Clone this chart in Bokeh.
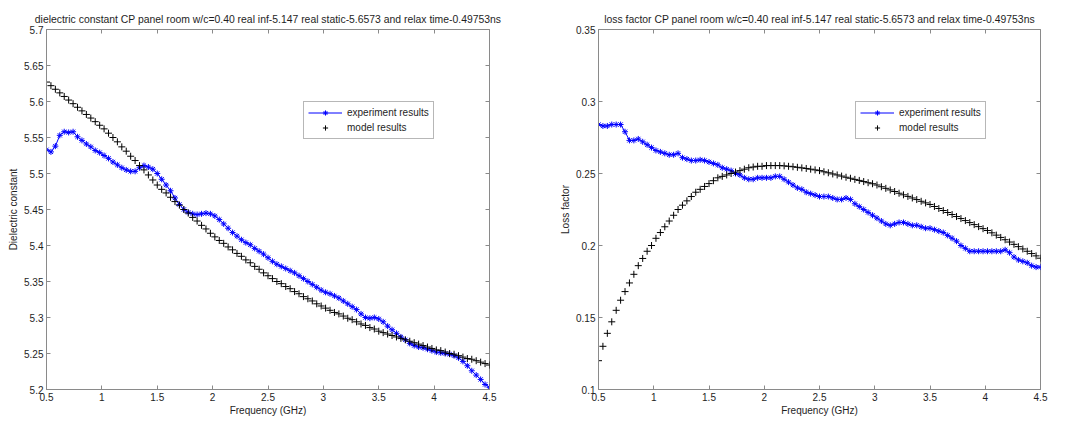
from bokeh.plotting import figure
from bokeh.models import (LinearAxis, FixedTicker, CustomJSTickFormatter, Legend,
                          LegendItem, Range1d)
from bokeh.layouts import row
from bokeh.embed import file_html
from bokeh.resources import INLINE

# Frequency sweep, 0.5 to 4.5 GHz in 0.04 GHz steps (101 samples)
freq_ghz = [round(0.5 + 0.04 * i, 2) for i in range(101)]

# Dielectric constant (real part)
eps_experiment = [
    5.533, 5.530, 5.538, 5.553, 5.558, 5.557, 5.558, 5.551, 5.546, 5.541,
    5.537, 5.532, 5.529, 5.525, 5.521, 5.516, 5.512, 5.508, 5.505, 5.503,
    5.503, 5.508, 5.511, 5.509, 5.506, 5.500, 5.492, 5.484, 5.476, 5.466,
    5.457, 5.450, 5.446, 5.444, 5.443, 5.444, 5.445, 5.444, 5.441, 5.436,
    5.430, 5.424, 5.418, 5.413, 5.408, 5.404, 5.401, 5.396, 5.392, 5.388,
    5.383, 5.378, 5.374, 5.371, 5.368, 5.365, 5.362, 5.358, 5.354, 5.350,
    5.346, 5.342, 5.338, 5.335, 5.333, 5.330, 5.327, 5.323, 5.319, 5.315,
    5.311, 5.305, 5.300, 5.299, 5.300, 5.298, 5.294, 5.288, 5.283, 5.278,
    5.273, 5.269, 5.264, 5.261, 5.259, 5.258, 5.256, 5.254, 5.252, 5.251,
    5.250, 5.249, 5.247, 5.244, 5.239, 5.233, 5.226, 5.220, 5.214, 5.207,
    5.203,
]
eps_model = [
    5.627, 5.622, 5.617, 5.612, 5.607, 5.602, 5.597, 5.592, 5.587, 5.582,
    5.577, 5.572, 5.567, 5.562, 5.556, 5.550, 5.544, 5.537, 5.531, 5.524,
    5.518, 5.511, 5.505, 5.498, 5.491, 5.484, 5.478, 5.473, 5.467, 5.461,
    5.456, 5.450, 5.445, 5.439, 5.434, 5.428, 5.423, 5.417, 5.412, 5.407,
    5.403, 5.398, 5.394, 5.389, 5.385, 5.380, 5.376, 5.371, 5.367, 5.362,
    5.358, 5.354, 5.350, 5.347, 5.343, 5.340, 5.336, 5.333, 5.329, 5.326,
    5.323, 5.319, 5.316, 5.313, 5.310, 5.307, 5.305, 5.302, 5.299, 5.297,
    5.294, 5.291, 5.289, 5.286, 5.284, 5.281, 5.279, 5.277, 5.275, 5.273,
    5.271, 5.269, 5.267, 5.265, 5.263, 5.261, 5.259, 5.257, 5.255, 5.254,
    5.252, 5.250, 5.249, 5.247, 5.245, 5.243, 5.242, 5.240, 5.238, 5.236,
    5.234,
]

# Loss factor (imaginary part)
loss_experiment = [
    0.284, 0.283, 0.283, 0.284, 0.284, 0.284, 0.279, 0.273, 0.273, 0.274,
    0.272, 0.270, 0.268, 0.266, 0.265, 0.264, 0.263, 0.263, 0.264, 0.261,
    0.260, 0.259, 0.259, 0.2595, 0.259, 0.258, 0.257, 0.256, 0.254, 0.253,
    0.252, 0.250, 0.249, 0.247, 0.246, 0.246, 0.247, 0.247, 0.247, 0.247,
    0.248, 0.248, 0.246, 0.244, 0.242, 0.240, 0.239, 0.237, 0.236, 0.235,
    0.234, 0.234, 0.234, 0.233, 0.232, 0.232, 0.233, 0.232, 0.229, 0.227,
    0.225, 0.223, 0.221, 0.219, 0.217, 0.215, 0.214, 0.215, 0.216, 0.216,
    0.215, 0.214, 0.214, 0.213, 0.212, 0.212, 0.211, 0.210, 0.209, 0.207,
    0.205, 0.203, 0.200, 0.198, 0.196, 0.196, 0.196, 0.196, 0.196, 0.196,
    0.196, 0.196, 0.197, 0.195, 0.192, 0.190, 0.189, 0.188, 0.186, 0.185,
    0.185,
]
loss_model = [
    0.120, 0.130, 0.139, 0.147, 0.155, 0.162, 0.168, 0.174, 0.180, 0.186,
    0.191, 0.196, 0.200, 0.205, 0.209, 0.213, 0.217, 0.221, 0.225, 0.228,
    0.231, 0.234, 0.237, 0.239, 0.241, 0.243, 0.245, 0.247, 0.248, 0.249,
    0.250, 0.251, 0.252, 0.253, 0.254, 0.2545, 0.255, 0.255, 0.2555, 0.2555,
    0.2555, 0.2555, 0.2553, 0.2550, 0.2547, 0.2543, 0.2539, 0.2535, 0.2530, 0.2525,
    0.2520, 0.2512, 0.2505, 0.2497, 0.2490, 0.2482, 0.2474, 0.2467, 0.2459, 0.2452,
    0.2444, 0.2436, 0.2429, 0.2420, 0.2408, 0.2397, 0.2386, 0.2375, 0.2363, 0.2352,
    0.2341, 0.2330, 0.2319, 0.2307, 0.2296, 0.2285, 0.2271, 0.2257, 0.2243, 0.2229,
    0.2215, 0.2201, 0.2187, 0.2173, 0.2159, 0.2145, 0.2131, 0.2117, 0.2104, 0.2088,
    0.2072, 0.2056, 0.2040, 0.2024, 0.2008, 0.1992, 0.1976, 0.1960, 0.1944, 0.1928,
    0.1912,
]

x_ticks = [0.5, 1.0, 1.5, 2.0, 2.5, 3.0, 3.5, 4.0, 4.5]
eps_ticks = [5.2, 5.25, 5.3, 5.35, 5.4, 5.45, 5.5, 5.55, 5.6, 5.65, 5.7]
loss_ticks = [0.1, 0.15, 0.2, 0.25, 0.3, 0.35]

title_eps = ("dielectric constant CP panel room w/c=0.40 real inf-5.147 "
             "real static-5.6573 and relax time-0.49753ns")
title_loss = ("loss factor CP panel room w/c=0.40 real inf-5.147 "
              "real static-5.6573 and relax time-0.49753ns")

FONT = "Liberation Sans"
FS = "10px"
AXIS = "#8a8a8a"
TEXT = "#1e1e1e"
BLUE = "#0000ff"

label_fmt = CustomJSTickFormatter(code="return String(Math.round(tick * 1000) / 1000);")
blank_fmt = CustomJSTickFormatter(code="return '';")


def style_axis(ax, ticks, fmt, show_labels=True):
    ax.ticker = FixedTicker(ticks=ticks)
    ax.formatter = fmt
    ax.major_tick_in = 4
    ax.major_tick_out = 0
    ax.minor_tick_line_color = None
    ax.major_tick_line_color = AXIS
    ax.axis_line_color = AXIS if show_labels else None
    ax.major_label_text_font = FONT
    ax.major_label_text_font_size = FS if show_labels else "0px"
    ax.major_label_text_color = TEXT
    ax.major_label_standoff = 3 if show_labels else 0
    ax.axis_label_text_font = FONT
    ax.axis_label_text_font_size = FS
    ax.axis_label_text_font_style = "normal"
    ax.axis_label_text_color = TEXT


def panel(title, ylabel, yr, yticks, exp, model, width, b_left, b_right, b_top):
    p = figure(width=width, height=422, output_backend="svg", toolbar_location=None,
               x_range=Range1d(0.5, 4.5), y_range=Range1d(*yr),
               min_border_left=b_left, min_border_right=b_right,
               min_border_top=b_top, min_border_bottom=33,
               background_fill_color="white", border_fill_color="white")
    p.grid.visible = False
    p.outline_line_color = AXIS
    p.outline_line_width = 1

    p.title.text = title
    p.title.align = "center"
    p.title.text_font = FONT
    p.title.text_font_size = "10.4px"
    p.title.text_font_style = "normal"
    p.title.text_color = TEXT

    style_axis(p.xaxis[0], x_ticks, label_fmt)
    style_axis(p.yaxis[0], yticks, label_fmt)
    p.xaxis[0].axis_label = "Frequency (GHz)"
    p.xaxis[0].axis_label_standoff = 1
    p.yaxis[0].axis_label = ylabel
    p.yaxis[0].axis_label_standoff = 2

    top = LinearAxis()
    style_axis(top, x_ticks, blank_fmt, show_labels=False)
    p.add_layout(top, "above")
    right = LinearAxis()
    style_axis(right, yticks, blank_fmt, show_labels=False)
    p.add_layout(right, "right")

    line_r = p.line(freq_ghz, exp, line_color=BLUE, line_width=1)
    star_r = p.scatter(freq_ghz, exp, marker="asterisk", size=6,
                       line_color=BLUE, line_width=1)
    cross_r = p.scatter(freq_ghz, model, marker="cross", size=7,
                        line_color="#000000", line_width=1)

    legend = Legend(items=[
        LegendItem(label="experiment results", renderers=[line_r, star_r]),
        LegendItem(label="model results", renderers=[cross_r]),
    ], location=(257, 250))
    legend.label_text_font = FONT
    legend.label_text_font_size = FS
    legend.label_text_color = TEXT
    legend.glyph_width = 34
    legend.glyph_height = 13
    legend.label_height = 13
    legend.label_standoff = 5
    legend.spacing = 2
    legend.padding = 4
    legend.margin = 0
    legend.border_line_color = "#707070"
    legend.border_line_width = 1
    legend.background_fill_color = "white"
    legend.background_fill_alpha = 1
    p.add_layout(legend)
    return p


p_eps = panel(title_eps, "Dielectric constant", (5.2, 5.7), eps_ticks,
              eps_experiment, eps_model, 553, 46, 64, 29)
p_loss = panel(title_loss, "Loss factor", (0.1, 0.35), loss_ticks,
               loss_experiment, loss_model, 517, 45, 30, 27)

layout = row(p_eps, p_loss)
open("out.html", "w").write(file_html(layout, INLINE))
